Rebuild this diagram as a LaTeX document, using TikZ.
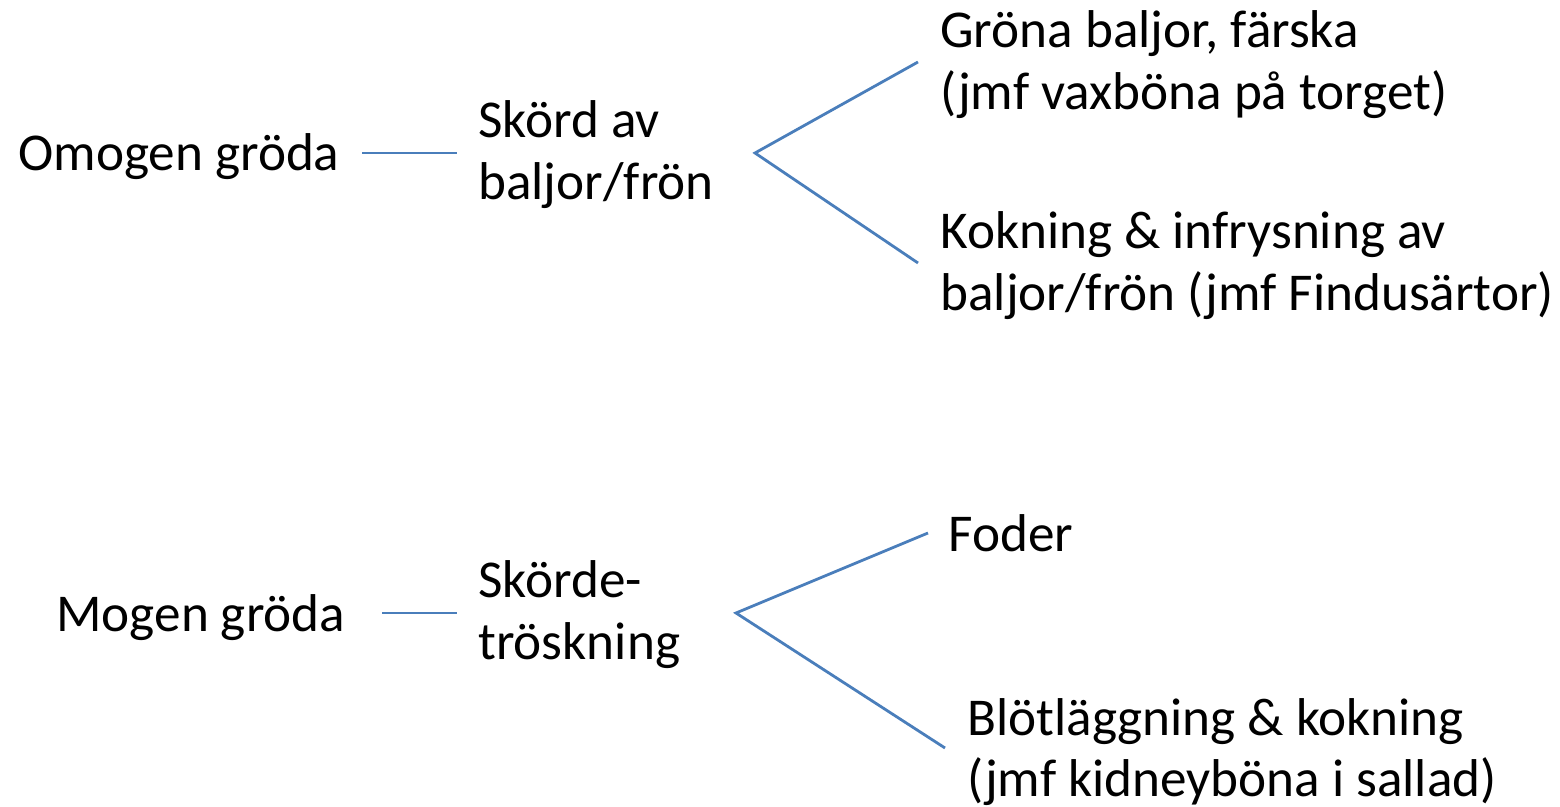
\documentclass[tikz,border=0pt]{standalone}
\usepackage{fontspec}
\setmainfont{Carlito}
\definecolor{linkblue}{HTML}{4A7EBB}
\begin{document}
\begin{tikzpicture}[x=0.5pt,y=-0.5pt,
  lbl/.style={anchor=base west,inner sep=0pt,align=left,font=\fontsize{26.6pt}{31pt}\selectfont},
  link/.style={draw=linkblue,line width=1.4pt}]
\useasboundingbox (0,0) rectangle (1560,807);
% top group (base anchor = last line baseline)
\node[lbl] (omogen) at (18,171) {Omogen gröda};
\node[lbl] (skord) at (478,200) {Skörd av\\baljor/frön};
\node[lbl] (grona) at (940,110) {Gröna baljor, färska\\(jmf vaxböna på torget)};
\node[lbl] (kokning) at (940,311) {Kokning \& infrysning av\\baljor/frön (jmf Findusärtor)};
\coordinate (c1a) at (362,153);
\coordinate (c1b) at (457,153);
\coordinate (b1) at (755,153);
\coordinate (t1a) at (918,62);
\coordinate (t1b) at (918,263);
\draw[link] (c1a) -- (c1b);
\draw[link] (t1a) -- (b1) -- (t1b);
% bottom group
\node[lbl] (mogen) at (56,632) {Mogen gröda};
\node[lbl] (trosk) at (478,660) {Skörde-\\tröskning};
\node[lbl] (foder) at (948,552) {Foder};
\node[lbl] (blot) at (967,797) {Blötläggning \& kokning\\(jmf kidneyböna i sallad)};
\coordinate (c2a) at (382,613);
\coordinate (c2b) at (457,613);
\coordinate (b2) at (736,613);
\coordinate (t2a) at (928,533);
\coordinate (t2b) at (945,748);
\draw[link] (c2a) -- (c2b);
\draw[link] (t2a) -- (b2) -- (t2b);
\end{tikzpicture}
\end{document}
